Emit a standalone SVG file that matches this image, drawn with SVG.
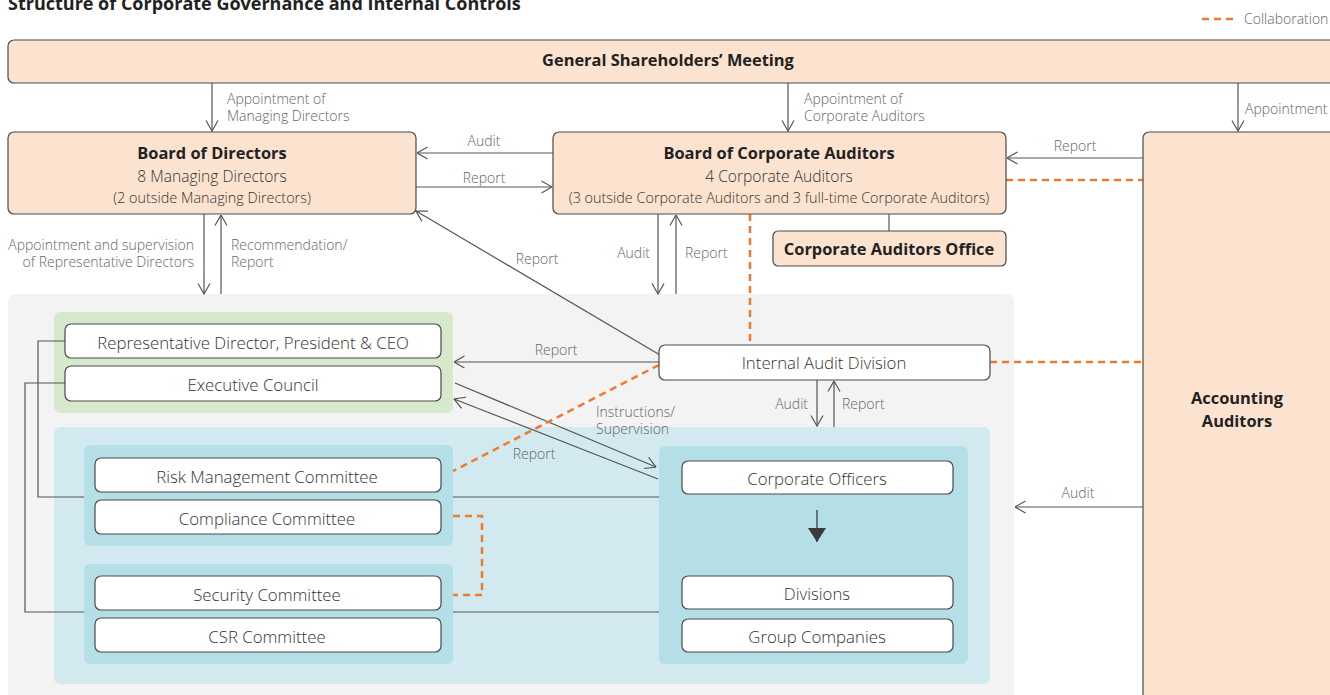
<svg xmlns="http://www.w3.org/2000/svg" width="1330" height="695" viewBox="0 0 1330 695">
<style>
.peach{fill:#fce3cf;stroke:#4a4a4a;stroke-width:1.2}
.white{fill:#ffffff;stroke:#4a4a4a;stroke-width:1.2}
.ln{fill:none;stroke:#555;stroke-width:1.2}
.dash{fill:none;stroke:#ee7a2e;stroke-width:2.5;stroke-dasharray:7,5}
.t{font-family:"Open Sans","Noto Sans",sans-serif;fill:#333}
.b{font-weight:700;font-size:16.4px;fill:#222}
.n{font-size:15.6px;font-weight:300}
.w{font-size:16.8px;font-weight:300}
.s{font-size:14.4px;font-weight:300}
.lab{font-family:"Open Sans","Noto Sans",sans-serif;font-size:14px;font-weight:300;fill:#666}
</style>
<defs>
<marker id="arr" viewBox="0 0 12 14" refX="11.5" refY="7" markerWidth="12" markerHeight="14" markerUnits="userSpaceOnUse" orient="auto">
<path d="M1,1 L11.5,7 L1,13" fill="none" stroke="#555" stroke-width="1.2"/>
</marker>
<marker id="tri" viewBox="0 0 20 14" refX="10" refY="14" markerWidth="20" markerHeight="14" markerUnits="userSpaceOnUse" orient="0">
<path d="M1,0 L19,0 L10,14 Z" fill="#3a3a3a"/>
</marker>
</defs>

<text class="t" x="8" y="10" style="font-weight:700;font-size:18px;fill:#222">Structure of Corporate Governance and Internal Controls</text>
<g id="legend">
<line x1="1202" y1="19" x2="1238" y2="19" class="dash"/>
<text class="lab" x="1244" y="24">Collaboration</text>
</g>

<g id="background">
<rect x="8" y="294" width="1006" height="420" rx="8" fill="#f3f3f3"/>
<rect x="54" y="312" width="399" height="101" rx="6" fill="#d6e9cc"/>
<rect x="54" y="427" width="936" height="257" rx="6" fill="#d2eaef"/>
<rect x="84" y="445" width="369" height="101" rx="6" fill="#b5dfe7"/>
<rect x="84" y="564" width="369" height="100" rx="6" fill="#b5dfe7"/>
<rect x="659" y="446" width="309" height="218" rx="6" fill="#b5dfe7"/>
</g>

<g id="connectors">
<line x1="212" y1="83" x2="212" y2="131" class="ln" marker-end="url(#arr)"/>
<line x1="788" y1="83" x2="788" y2="131" class="ln" marker-end="url(#arr)"/>
<line x1="1238" y1="83" x2="1238" y2="131" class="ln" marker-end="url(#arr)"/>
<line x1="553" y1="153" x2="417" y2="153" class="ln" marker-end="url(#arr)"/>
<line x1="416" y1="187" x2="552" y2="187" class="ln" marker-end="url(#arr)"/>
<line x1="1143" y1="158" x2="1007" y2="158" class="ln" marker-end="url(#arr)"/>
<line x1="889" y1="214" x2="889" y2="231" class="ln"/>
<line x1="204" y1="214" x2="204" y2="294" class="ln" marker-end="url(#arr)"/>
<line x1="221" y1="294" x2="221" y2="215" class="ln" marker-end="url(#arr)"/>
<line x1="658" y1="214" x2="658" y2="294" class="ln" marker-end="url(#arr)"/>
<line x1="676" y1="294" x2="676" y2="215" class="ln" marker-end="url(#arr)"/>
<line x1="660" y1="355" x2="416" y2="211" class="ln" marker-end="url(#arr)"/>
<line x1="659" y1="362" x2="454" y2="362" class="ln" marker-end="url(#arr)"/>
<line x1="455" y1="383" x2="656" y2="467" class="ln" marker-end="url(#arr)"/>
<line x1="658" y1="479" x2="454" y2="399" class="ln" marker-end="url(#arr)"/>
<line x1="817" y1="380" x2="817" y2="426" class="ln" marker-end="url(#arr)"/>
<line x1="834" y1="427" x2="834" y2="381" class="ln" marker-end="url(#arr)"/>
<line x1="1143" y1="507" x2="1015" y2="507" class="ln" marker-end="url(#arr)"/>
<line x1="453" y1="497" x2="659" y2="497" class="ln"/>
<line x1="453" y1="612" x2="659" y2="612" class="ln"/>
<polyline points="65,341 38,341 38,497 84,497" class="ln"/>
<polyline points="65,383 25,383 25,612 84,612" class="ln"/>
<line x1="817" y1="510" x2="817" y2="542" stroke="#3a3a3a" stroke-width="1.3" marker-end="url(#tri)"/>
<line x1="1006" y1="180" x2="1143" y2="180" class="dash"/>
<line x1="750" y1="214" x2="750" y2="345" class="dash"/>
<line x1="990" y1="362" x2="1143" y2="362" class="dash"/>
<line x1="659" y1="365" x2="453" y2="471" class="dash"/>
<polyline points="453,516 482,516 482,595 453,595" class="dash"/>
</g>

<g id="connector-labels">
<text class="lab" x="227" y="104">Appointment of</text>
<text class="lab" x="227" y="121">Managing Directors</text>
<text class="lab" x="804" y="104">Appointment of</text>
<text class="lab" x="804" y="121">Corporate Auditors</text>
<text class="lab" x="1245" y="114">Appointment</text>
<text class="lab" x="484" y="146" text-anchor="middle">Audit</text>
<text class="lab" x="484" y="183" text-anchor="middle">Report</text>
<text class="lab" x="1075" y="151" text-anchor="middle">Report</text>
<text class="lab" x="194" y="250" text-anchor="end">Appointment and supervision</text>
<text class="lab" x="194" y="267" text-anchor="end">of Representative Directors</text>
<text class="lab" x="231" y="250">Recommendation/</text>
<text class="lab" x="231" y="267">Report</text>
<text class="lab" x="650" y="258" text-anchor="end">Audit</text>
<text class="lab" x="685" y="258">Report</text>
<text class="lab" x="537" y="264" text-anchor="middle">Report</text>
<text class="lab" x="556" y="355" text-anchor="middle">Report</text>
<text class="lab" x="596" y="417">Instructions/</text>
<text class="lab" x="596" y="434">Supervision</text>
<text class="lab" x="534" y="459" text-anchor="middle">Report</text>
<text class="lab" x="808" y="409" text-anchor="end">Audit</text>
<text class="lab" x="842" y="409">Report</text>
<text class="lab" x="1078" y="498" text-anchor="middle">Audit</text>
</g>

<g id="gsm">
<rect x="8" y="40" width="1330" height="43" rx="6" class="peach"/>
<text class="t b" x="668" y="66" text-anchor="middle">General Shareholders’ Meeting</text>
</g>
<g id="board-of-directors">
<rect x="8" y="132" width="408" height="82" rx="6" class="peach"/>
<text class="t b" x="212" y="159" text-anchor="middle">Board of Directors</text>
<text class="t n" x="212" y="182" text-anchor="middle">8 Managing Directors</text>
<text class="t s" x="212" y="203" text-anchor="middle">(2 outside Managing Directors)</text>
</g>
<g id="board-of-corporate-auditors">
<rect x="553" y="132" width="453" height="82" rx="6" class="peach"/>
<text class="t b" x="779" y="159" text-anchor="middle">Board of Corporate Auditors</text>
<text class="t n" x="779" y="182" text-anchor="middle">4 Corporate Auditors</text>
<text class="t s" x="779" y="203" text-anchor="middle">(3 outside Corporate Auditors and 3 full-time Corporate Auditors)</text>
</g>
<g id="corporate-auditors-office">
<rect x="773" y="231" width="233" height="35" rx="5" class="peach"/>
<text class="t b" x="889" y="255" text-anchor="middle">Corporate Auditors Office</text>
</g>
<g id="accounting-auditors">
<rect x="1143" y="132" width="200" height="580" rx="6" class="peach"/>
<text class="t b" x="1237" y="404" text-anchor="middle">Accounting</text>
<text class="t b" x="1237" y="427" text-anchor="middle">Auditors</text>
</g>
<g id="rep-director">
<rect x="65" y="324" width="376" height="34" rx="6" class="white"/>
<text class="t w" x="253" y="349" text-anchor="middle">Representative Director, President &amp; CEO</text>
</g>
<g id="executive-council">
<rect x="65" y="366" width="376" height="35" rx="6" class="white"/>
<text class="t w" x="253" y="391" text-anchor="middle">Executive Council</text>
</g>
<g id="internal-audit-division">
<rect x="659" y="345" width="331" height="35" rx="6" class="white"/>
<text class="t w" x="824" y="369" text-anchor="middle">Internal Audit Division</text>
</g>
<g id="risk-management-committee">
<rect x="95" y="458" width="346" height="34" rx="6" class="white"/>
<text class="t w" x="267" y="483" text-anchor="middle">Risk Management Committee</text>
</g>
<g id="compliance-committee">
<rect x="95" y="500" width="346" height="34" rx="6" class="white"/>
<text class="t w" x="267" y="525" text-anchor="middle">Compliance Committee</text>
</g>
<g id="security-committee">
<rect x="95" y="576" width="346" height="34" rx="6" class="white"/>
<text class="t w" x="267" y="601" text-anchor="middle">Security Committee</text>
</g>
<g id="csr-committee">
<rect x="95" y="618" width="346" height="34" rx="6" class="white"/>
<text class="t w" x="267" y="643" text-anchor="middle">CSR Committee</text>
</g>
<g id="corporate-officers">
<rect x="682" y="461" width="271" height="33" rx="6" class="white"/>
<text class="t w" x="817" y="485" text-anchor="middle">Corporate Officers</text>
</g>
<g id="divisions">
<rect x="682" y="576" width="271" height="33" rx="6" class="white"/>
<text class="t w" x="817" y="600" text-anchor="middle">Divisions</text>
</g>
<g id="group-companies">
<rect x="682" y="619" width="271" height="33" rx="6" class="white"/>
<text class="t w" x="817" y="643" text-anchor="middle">Group Companies</text>
</g>
</svg>
